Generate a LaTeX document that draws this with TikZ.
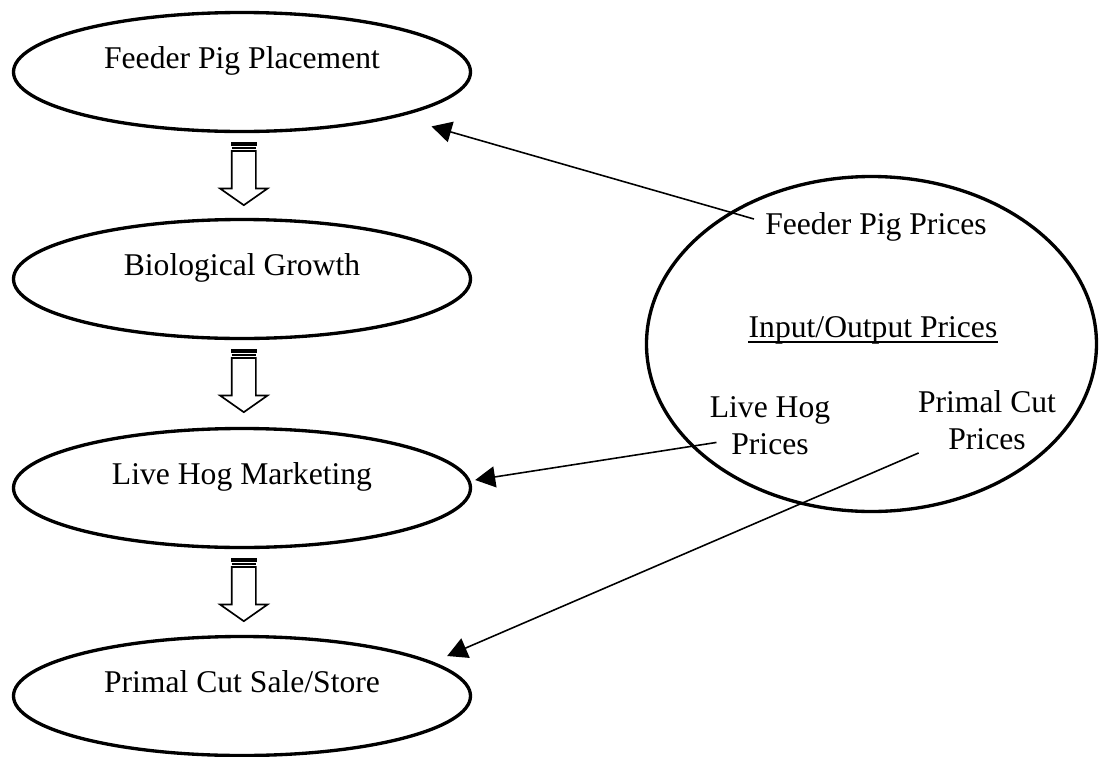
\documentclass[tikz,border=0pt]{standalone}
\usepackage{fontspec}
\setmainfont{Liberation Serif}
\usetikzlibrary{arrows.meta, shapes.geometric, calc}

\begin{document}
\begin{tikzpicture}[
    x=0.2mm, y=-0.2mm,
    font=\fontsize{18}{21}\selectfont,
    stage/.style={ellipse,draw,line width=1.9pt,minimum width=91.4mm,
                  minimum height=23.8mm,inner sep=0pt,
                  text height=12pt,text depth=15.5pt},
    pricebox/.style={ellipse,draw,line width=1.9pt,minimum width=90mm,
                     minimum height=67mm},
    tag/.style={inner sep=0pt,align=center},
    feed/.style={line width=0.9pt,-{Triangle[length=4mm,width=4.2mm]}},
    blockline/.style={line width=0.95pt,line join=miter},
    flow/.pic={
      \fill (-12.9,9.3) rectangle (12.9,12.7);
      \draw[blockline] (-12.1,15.1) -- (12.1,15.1);
      \draw[blockline] (-12.1,17.8) -- (12.1,17.8) -- (12.1,55.3)
        -- (23.8,55.3) -- (0,72) -- (-23.8,55.3) -- (-12.1,55.3) -- cycle;
    }
  ]
  \useasboundingbox (0,0) rectangle (1099,757);

  % production stages
  \node[stage] (place)  at (242,72)  {Feeder Pig Placement};
  \node[stage] (growth) at (242,279) {Biological Growth};
  \node[stage] (market) at (242,488) {Live Hog Marketing};
  \node[stage] (sale)   at (242,696) {Primal Cut Sale/Store};
  \foreach \a in {place,growth,market}
    \pic at ($(\a.south)+(1.8,0)$) {flow};

  % prices
  \node[pricebox] (prices) at (871.5,344) {};
  \node[tag,anchor=base] (fpp) at (876,234) {Feeder Pig Prices};
  \node[tag,anchor=base] (io)  at (873,337) {Input/Output Prices};
  \draw[line width=1.5pt] ([shift={(0,5)}]io.base west)
    -- ([shift={(0,5)}]io.base east);
  \node[tag] (lhp) at (770,426) {Live Hog\\Prices};
  \node[tag] (pcp) at (987,420) {Primal Cut\\Prices};

  \draw[feed,shorten >=6.9mm] ([shift={(-11,-15)}]fpp.base west) -- (place);
  \draw[feed] ([shift={(7,-13)}]lhp.south west)
    -- ([shift={(3,-8)}]market.east);
  \draw[feed] ([shift={(1,3)}]pcp.south west)
    -- ([shift={(-25,-40)}]sale.east);
\end{tikzpicture}
\end{document}
